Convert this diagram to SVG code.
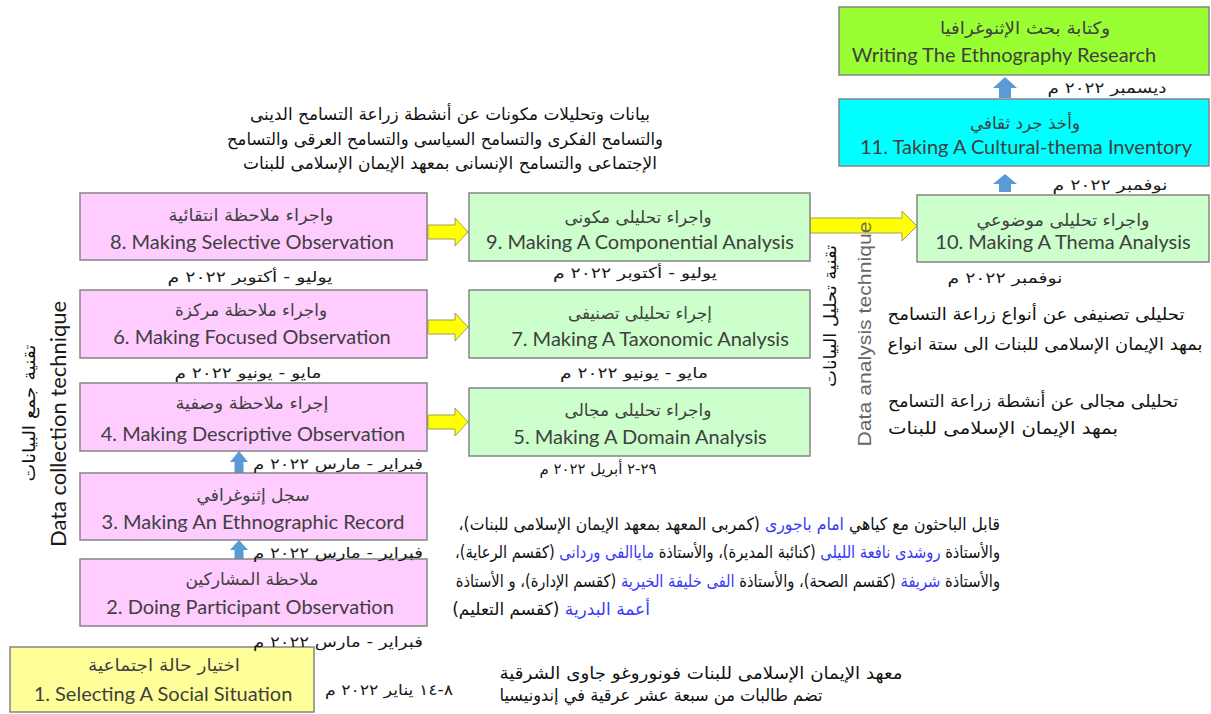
<svg xmlns="http://www.w3.org/2000/svg" width="1211" height="714" viewBox="0 0 1211 714">
<style>
.bx{stroke:#858585;stroke-width:1.5}
.pink{fill:#FFCCFF}
.green{fill:#CCFFCC}
.en{font-family:Lato,'Open Sans',sans-serif;font-size:20px;fill:#404040;text-anchor:middle}
.ar{font-family:'DejaVu Sans',sans-serif;font-size:17px;fill:#404040;text-anchor:middle}
.dt{font-family:'DejaVu Sans',sans-serif;font-size:15px;fill:#1a1a1a;text-anchor:middle}
.tx{font-family:'DejaVu Sans',sans-serif;font-size:17px;fill:#111;text-anchor:middle}
.pr{font-family:'DejaVu Sans',sans-serif;font-size:17px;fill:#111;text-anchor:start}
.bl{fill:#3939F5}
.ya{fill:#FFFF00;stroke:#9E9E5A;stroke-width:1}
.ba{fill:#5B9BD5}
</style>
<rect width="1211" height="714" fill="#fff"/>

<g id="connectors">
<path class="ya" d="M428,225 H455 V218 L468,232 L455,246 V239 H428 Z"/>
<path class="ya" d="M428,320 H455 V313 L468,327 L455,341 V334 H428 Z"/>
<path class="ya" d="M428,415 H455 V408 L468,422 L455,436 V429 H428 Z"/>
<path class="ya" d="M810,218 H902 V211 L917,226 L902,241 V233 H810 Z"/>
<path class="ba" d="M234.5,473 V462 H230 L239,451 L248,462 H243.5 V473 Z"/>
<path class="ba" d="M234.5,559 V550 H230 L239,540 L248,550 H243.5 V559 Z"/>
<path class="ba" d="M999,192 V184 H993 L1005,174 L1017,184 H1011 V192 Z"/>
<path class="ba" d="M999,98 V88 H993 L1005,77 L1017,88 H1011 V98 Z"/>
</g>

<g id="node-writing">
<rect class="bx" x="839" y="7" width="370" height="68" fill="#99FF33"/>
<text class="ar" x="1025" y="34" direction="rtl" textLength="170" lengthAdjust="spacingAndGlyphs">وكتابة بحث الإثنوغرافيا</text>
<text class="en" x="1004" y="62">Writing The Ethnography Research</text>
</g>
<g id="node-11">
<rect class="bx" x="839" y="99" width="370" height="67" fill="#00FFFF"/>
<text class="ar" x="1025" y="129" direction="rtl" textLength="110" lengthAdjust="spacingAndGlyphs">وأخذ جرد ثقافي</text>
<text class="en" x="1026" y="154">11. Taking A Cultural-thema  Inventory</text>
</g>
<g id="node-10">
<rect class="bx green" x="917" y="195" width="292" height="67"/>
<text class="ar" x="1063" y="226" direction="rtl" textLength="173" lengthAdjust="spacingAndGlyphs">واجراء تحليلى موضوعي</text>
<text class="en" x="1063" y="249">10. Making A Thema Analysis</text>
</g>
<g id="node-9">
<rect class="bx green" x="469" y="193" width="341" height="68"/>
<text class="ar" x="638" y="223" direction="rtl" textLength="147" lengthAdjust="spacingAndGlyphs">واجراء تحليلى مكونى</text>
<text class="en" x="640" y="249">9. Making A Componential  Analysis</text>
</g>
<g id="node-7">
<rect class="bx green" x="469" y="290" width="341" height="68"/>
<text class="ar" x="640" y="319" direction="rtl" textLength="144" lengthAdjust="spacingAndGlyphs">إجراء تحليلى تصنيفى</text>
<text class="en" x="650" y="346">7. Making A Taxonomic Analysis</text>
</g>
<g id="node-5">
<rect class="bx green" x="469" y="388" width="341" height="68"/>
<text class="ar" x="638" y="416" direction="rtl" textLength="147" lengthAdjust="spacingAndGlyphs">واجراء تحليلى مجالى</text>
<text class="en" x="640" y="444">5. Making A Domain Analysis</text>
</g>
<g id="node-8">
<rect class="bx pink" x="80" y="193" width="347" height="67"/>
<text class="ar" x="251" y="221" direction="rtl" textLength="165" lengthAdjust="spacingAndGlyphs">واجراء ملاحظة انتقائية</text>
<text class="en" x="252" y="249">8. Making Selective Observation</text>
</g>
<g id="node-6">
<rect class="bx pink" x="80" y="290" width="347" height="68"/>
<text class="ar" x="251" y="316" direction="rtl" textLength="152" lengthAdjust="spacingAndGlyphs">واجراء ملاحظة مركزة</text>
<text class="en" x="252" y="344">6. Making Focused Observation</text>
</g>
<g id="node-4">
<rect class="bx pink" x="80" y="383" width="347" height="68"/>
<text class="ar" x="252" y="409" direction="rtl" textLength="153" lengthAdjust="spacingAndGlyphs">إجراء ملاحظة وصفية</text>
<text class="en" x="253" y="441">4. Making Descriptive Observation</text>
</g>
<g id="node-3">
<rect class="bx pink" x="80" y="473" width="347" height="67"/>
<text class="ar" x="253" y="501" direction="rtl" textLength="113" lengthAdjust="spacingAndGlyphs">سجل إثنوغرافي</text>
<text class="en" x="253" y="529">3. Making An Ethnographic Record</text>
</g>
<g id="node-2">
<rect class="bx pink" x="80" y="559" width="347" height="67"/>
<text class="ar" x="252" y="585" direction="rtl" textLength="133" lengthAdjust="spacingAndGlyphs">ملاحظة المشاركين</text>
<text class="en" x="250" y="614">2. Doing Participant  Observation</text>
</g>
<g id="node-1">
<rect class="bx" x="10" y="647" width="304" height="65" fill="#FFFF99"/>
<text class="ar" x="164" y="671" direction="rtl" textLength="152" lengthAdjust="spacingAndGlyphs">اختيار حالة اجتماعية</text>
<text class="en" x="163" y="701">1. Selecting A Social Situation</text>
</g>

<g id="dates">
<text class="dt" x="1107" y="93" direction="rtl" textLength="119" lengthAdjust="spacingAndGlyphs">ديسمبر ٢٠٢٢ م</text>
<text class="dt" x="1110" y="190" direction="rtl" textLength="115" lengthAdjust="spacingAndGlyphs">نوفمبر ٢٠٢٢ م</text>
<text class="dt" x="1005" y="283" direction="rtl" textLength="115" lengthAdjust="spacingAndGlyphs">نوفمبر ٢٠٢٢ م</text>
<text class="dt" x="250" y="282" direction="rtl" textLength="165" lengthAdjust="spacingAndGlyphs">يوليو - أكتوبر ٢٠٢٢ م</text>
<text class="dt" x="635" y="278" direction="rtl" textLength="164" lengthAdjust="spacingAndGlyphs">يوليو - أكتوبر ٢٠٢٢ م</text>
<text class="dt" x="248" y="378" direction="rtl" textLength="147" lengthAdjust="spacingAndGlyphs">مايو - يونيو ٢٠٢٢ م</text>
<text class="dt" x="634" y="378" direction="rtl" textLength="148" lengthAdjust="spacingAndGlyphs">مايو - يونيو ٢٠٢٢ م</text>
<text class="dt" x="598" y="474" direction="rtl" textLength="117" lengthAdjust="spacingAndGlyphs">٢٩-٢ أبريل ٢٠٢٢ م</text>
<text class="dt" x="338" y="469" direction="rtl" textLength="170" lengthAdjust="spacingAndGlyphs">فبراير - مارس ٢٠٢٢ م</text>
<text class="dt" x="338" y="558" direction="rtl" textLength="170" lengthAdjust="spacingAndGlyphs">فبراير - مارس ٢٠٢٢ م</text>
<text class="dt" x="338" y="647" direction="rtl" textLength="170" lengthAdjust="spacingAndGlyphs">فبراير - مارس ٢٠٢٢ م</text>
<text class="dt" x="389" y="695" direction="rtl" textLength="128" lengthAdjust="spacingAndGlyphs">٨-١٤ يناير ٢٠٢٢ م</text>
</g>

<g id="labels">
<text class="tx" x="450" y="120" direction="rtl" textLength="400" lengthAdjust="spacingAndGlyphs">بيانات وتحليلات مكونات عن أنشطة زراعة التسامح الدينى</text>
<text class="tx" x="445" y="145" direction="rtl" textLength="436" lengthAdjust="spacingAndGlyphs">والتسامح الفكرى والتسامح السياسى والتسامح العرقى والتسامح</text>
<text class="tx" x="450" y="169" direction="rtl" textLength="414" lengthAdjust="spacingAndGlyphs">الإجتماعى والتسامح الإنسانى بمعهد الإيمان الإسلامى للبنات</text>

<text class="tx" x="1036" y="320" direction="rtl" textLength="297" lengthAdjust="spacingAndGlyphs">تحليلى تصنيفى عن أنواع زراعة التسامح</text>
<text class="tx" x="1045" y="350" direction="rtl" textLength="315" lengthAdjust="spacingAndGlyphs">بمهد الإيمان الإسلامى للبنات الى ستة انواع</text>
<text class="tx" x="1033" y="407" direction="rtl" textLength="290" lengthAdjust="spacingAndGlyphs">تحليلى مجالى عن أنشطة زراعة التسامح</text>
<text class="tx" x="1003" y="434" direction="rtl" textLength="230" lengthAdjust="spacingAndGlyphs">بمهد الإيمان الإسلامى للبنات</text>

<text class="pr" transform="translate(1000,530) scale(0.922,1)" direction="rtl">قابل الباحثون مع  كياهي <tspan class="bl">امام باجورى</tspan> (كمربى المعهد بمعهد الإيمان الإسلامى للبنات)،</text>
<text class="pr" transform="translate(1000,558) scale(0.862,1)" direction="rtl">والأستاذة <tspan class="bl">روشدى نافعة الليلى</tspan> (كنائبة المديرة)، والأستاذة <tspan class="bl">ماياالفى وردانى</tspan> (كقسم الرعاية)،</text>
<text class="pr" transform="translate(1000,587) scale(0.865,1)" direction="rtl">والأستاذة <tspan class="bl">شريفة</tspan> (كقسم الصحة)، والأستاذة <tspan class="bl">الفى خليفة الخيرية</tspan> (كقسم الإدارة)، و الأستاذة</text>
<text class="pr" x="650" y="615" direction="rtl"><tspan class="bl">أعمة البدرية</tspan> (كقسم التعليم)</text>

<text class="tx" x="701" y="679" direction="rtl" textLength="403" lengthAdjust="spacingAndGlyphs">معهد الإيمان الإسلامى للبنات فونوروغو جاوى الشرقية</text>
<text class="tx" x="661" y="701" direction="rtl" textLength="323" lengthAdjust="spacingAndGlyphs">تضم طالبات من سبعة عشر عرقية في إندونيسيا</text>

<text transform="translate(35,413) rotate(-90)" class="tx" direction="rtl" textLength="137" lengthAdjust="spacingAndGlyphs">تقنية جمع البيانات</text>
<text transform="translate(66,424) rotate(-90)" style="font-family:Lato,'Open Sans',sans-serif;font-size:21px;fill:#1a1a1a;text-anchor:middle" textLength="246" lengthAdjust="spacingAndGlyphs">Data collection technique</text>
<text transform="translate(836,316) rotate(-90)" class="tx" direction="rtl" textLength="142" lengthAdjust="spacingAndGlyphs">تقنية تحليل البيانات</text>
<text transform="translate(871,334) rotate(-90)" style="font-family:'Liberation Sans',sans-serif;font-size:19px;fill:#666;text-anchor:middle" textLength="225" lengthAdjust="spacingAndGlyphs">Data analysis  technique</text>
</g>
</svg>
